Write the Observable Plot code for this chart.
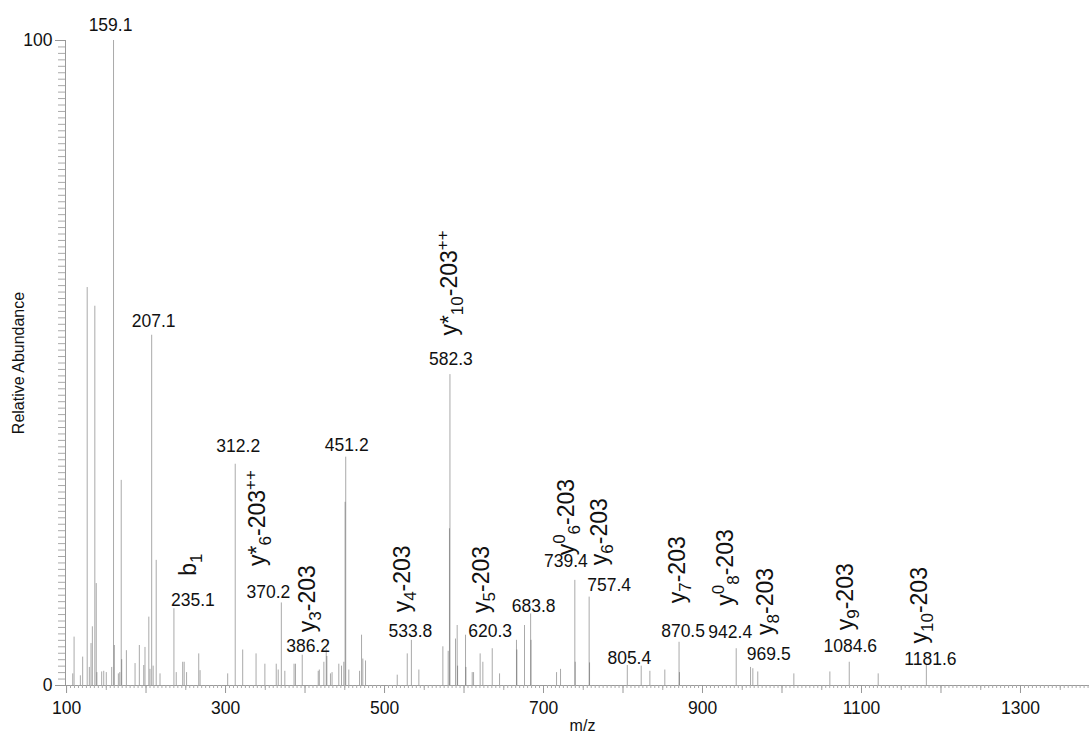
<!DOCTYPE html>
<html><head><meta charset="utf-8">
<script src="https://cdn.jsdelivr.net/npm/d3@7"></script>
<script src="https://cdn.jsdelivr.net/npm/@observablehq/plot@0.6"></script>
<style>html,body{margin:0;padding:0;background:#fff}svg{display:block}</style>
</head><body><div id="chart"></div>
<script>
// ---- data ----
const peakMz = [107.8,109.5,117.4,120.3,126.0,128.7,130.8,132.5,135.6,137.4,138.2,144.2,146.8,150.0,156.8,159.1,160.2,165.2,167.0,168.8,169.4,175.3,186.2,191.6,197.1,198.7,203.5,205.0,207.1,209.0,212.8,217.6,235.1,238.0,246.1,248.0,251.0,266.3,268.0,302.7,312.2,321.6,338.4,349.5,363.8,366.3,370.2,374.6,386.2,388.0,396.5,416.6,418.0,423.7,426.7,427.5,432.0,434.0,442.5,445.9,448.8,450.4,451.2,455.1,468.6,471.1,472.7,476.1,516.0,528.6,533.8,543.2,573.4,580.1,581.7,582.3,589.3,591.4,591.9,601.9,602.4,610.3,612.0,620.3,623.7,635.5,644.7,666.0,666.5,676.1,683.8,684.3,716.4,721.4,739.4,739.9,757.4,757.9,805.4,822.9,833.8,852.6,870.5,871.0,942.4,960.4,963.3,969.5,1014.9,1060.2,1084.6,1121.0,1181.6];
const peakIntensity = [1.8,7.5,1.5,4.4,61.7,2.8,6.5,9.1,58.8,15.8,2.0,2.1,2.2,2.0,2.8,100,6.2,1.8,2.0,31.8,4.0,5.4,3.4,6.2,3.1,5.9,10.6,2.5,54.3,3.0,19.4,1.8,11.9,2.0,3.6,3.6,2.0,4.9,2.3,1.8,34.3,5.5,4.9,3.3,3.3,2.4,12.8,2.2,3.3,3.3,4.7,2.2,2.4,3.6,5.7,4.5,1.8,2.0,3.3,3.0,3.6,28.4,35.4,2.4,2.2,7.8,4.1,3.8,1.6,4.9,7.0,2.4,6.0,5.3,24.3,48.2,7.2,9.3,3.0,7.8,2.8,2.0,2.0,4.9,3.6,5.7,1.8,7.0,5.5,9.3,11.1,7.0,2.0,2.5,16.3,3.6,13.7,3.5,3.1,3.0,2.2,2.4,6.7,2.0,5.7,2.8,2.6,2.1,1.8,2.1,3.6,1.8,3.1];

const labelMz = [159.1,207.1,235.1,312.2,370.2,386.2,451.2,533.8,582.3,620.3,683.8,739.4,757.4,805.4,870.5,942.4,969.5,1084.6,1181.6];
const labelText = ["159.1","207.1","235.1","312.2","370.2","386.2","451.2","533.8","582.3","620.3","683.8","739.4","757.4","805.4","870.5","942.4","969.5","1084.6","1181.6"];

const ionMz = [235.1,370.2,386.2,533.8,620.3,582.3,739.4,757.4,870.5,942.4,969.5,1084.6,1181.6];
const ionText = ["b_{1}","y*_{6}-203^{++}","y_{3}-203","y_{4}-203","y_{5}-203","y*_{10}-203^{++}","y^{0}_{6}-203","y_{6}-203","y_{7}-203","y^{0}_{8}-203","y_{8}-203","y_{9}-203","y_{10}-203"];

const xTickValues = [100,300,500,700,900,1100,1300];
const yTickValues = [0,100];

// ---- layout (styling offsets in px) ----
const labelOffsets = [[-3,-10],[2,-8],[19,-3],[3,-12],[-13,-5],[14,-12],[1,-6],[-1,-3],[1,-10],[10,-17],[3,-2],[-9,-13],[20,-6],[2,-2],[4,-5],[-6,-11],[11,-12],[1,-10],[4,-1]];
const ionOffsets = [[15,-33],[-24,-37],[14,-32],[-9,-28],[1,-41],[0,-39],[-8,-25],[10,-32],[-1,-39],[-11,-43],[8,-37],[-4,-32],[-7,-22]];

const peaks = peakMz.map((m,i)=>({mz:m, int:peakIntensity[i]}));
const intensityOf = m => peaks.find(p=>p.mz===m).int;
const labels = labelMz.map((m,i)=>({mz:m, int:intensityOf(m), text:labelText[i], dx:labelOffsets[i][0], dy:labelOffsets[i][1]}));
const ions = ionMz.map((m,i)=>({mz:m, int:intensityOf(m), text:ionText[i], dx:ionOffsets[i][0], dy:ionOffsets[i][1]}));

const FONT = "Liberation Sans, Arial, Helvetica, sans-serif";
const xDomain = [98.7, 1386.8];
const fmt = d => String(d);

const marks = [
  Plot.ruleX(peaks, {x:"mz", y1:0, y2:"int", stroke:"#555", strokeOpacity:0.5, strokeWidth:1}),
  Plot.frame({anchor:"left", stroke:"#999"}),
  Plot.frame({anchor:"bottom", stroke:"#999"}),
  // y axis
  Plot.axisY({ticks:d3.range(0,101,1), tickSize:7, tickFormat:()=>"", stroke:"#aaa", label:null}),
  Plot.axisY({ticks:yTickValues, tickSize:10, tickPadding:3, stroke:"#999", fill:"#111", fontSize:17.5, tickFormat:fmt, label:null}),
  // x axis
  Plot.axisX({ticks:d3.range(100,1386,5), tickSize:3, tickFormat:()=>"", stroke:"#aaa", label:null}),
  Plot.axisX({ticks:d3.range(150,1386,100), tickSize:5, tickFormat:()=>"", stroke:"#aaa", label:null}),
  Plot.axisX({ticks:d3.range(100,1386,100), tickSize:8, tickFormat:()=>"", stroke:"#999", label:null}),
  Plot.axisX({ticks:xTickValues, tickSize:8, tickPadding:8, stroke:"#999", fill:"#111", fontSize:17.5, tickFormat:fmt, label:null}),
  // axis titles
  Plot.text(["m/z"], {frameAnchor:"bottom", dx:5, dy:45, text:d=>d, fontSize:16, fill:"#111"}),
  Plot.text(["Relative Abundance"], {frameAnchor:"left", dx:-47, rotate:-90, textAnchor:"middle", text:d=>d, fontSize:16, fill:"#111"}),
  // numeric peak labels
  ...labels.map(l => Plot.text([l], {x:"mz", y:"int", text:"text", dx:l.dx, dy:l.dy, lineAnchor:"bottom", fontSize:17.5, fill:"#111"})),
  // ion labels (rotated)
  ...ions.map(l => Plot.text([l], {x:"mz", y:"int", text:"text", dx:l.dx, dy:l.dy, rotate:-90, textAnchor:"start", lineAnchor:"middle", fontSize:23, fill:"#111"}))
];

const chart = Plot.plot({
  width:1089, height:736,
  marginTop:40, marginBottom:51, marginLeft:65, marginRight:0,
  style:{fontFamily:FONT, background:"#fff", color:"#111"},
  x:{domain:xDomain, axis:null},
  y:{domain:[0,100], axis:null},
  marks
});
document.getElementById("chart").appendChild(chart);

// subscript / superscript rendering for ion labels
d3.select(chart).selectAll("text").each(function(){
  const el = d3.select(this);
  const s = el.text();
  if (!/[_^]\{/.test(s)) return;
  el.selectAll("*").remove();
  el.text(null);
  const re = /([_^])\{([^}]*)\}|([^_^]+)/g;
  let m, shift = 0;
  while ((m = re.exec(s)) !== null) {
    let target = 0, size = null, str;
    if (m[1] === "_") { target = 6; size = 17; str = m[2]; }
    else if (m[1] === "^") { target = -9; size = 17; str = m[2]; }
    else { str = m[3]; }
    const t = el.append("tspan").text(str).attr("dy", target - shift);
    if (size) t.attr("font-size", size);
    shift = target;
  }
});
</script>
</body></html>
